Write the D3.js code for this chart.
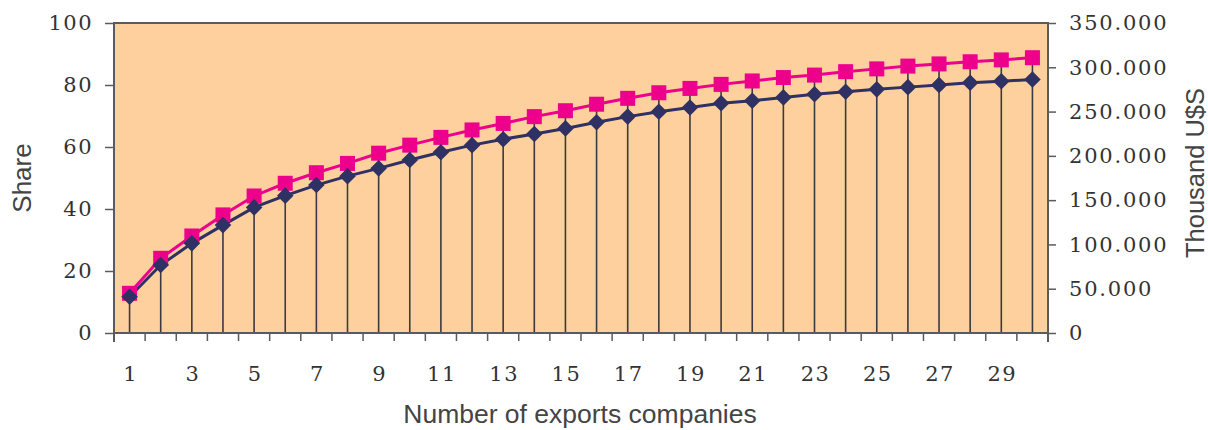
<!DOCTYPE html>
<html>
<head>
<meta charset="utf-8">
<script src="https://cdn.jsdelivr.net/npm/d3@7"></script>
<style>
  html, body { margin: 0; padding: 0; background: #ffffff; }
  svg { display: block; }
</style>
</head>
<body>
<svg id="chart" width="1208" height="430"></svg>
<script>
// ---- data ----
const companies = d3.range(1, 31);                       // number of export companies
const shareValues = [12.8, 24.1, 31.3, 38.1, 44.2, 48.3, 51.7, 54.7, 58.0, 60.6,
                     63.1, 65.5, 67.6, 69.8, 71.7, 73.8, 75.7, 77.5, 78.9, 80.2,
                     81.3, 82.4, 83.2, 84.3, 85.2, 86.1, 86.8, 87.5, 88.1, 88.8];
const valueThousands = [41000, 76700, 101200, 121800, 141800, 155100, 167000, 177100, 185900, 195300,
                        204100, 212100, 218800, 224700, 231000, 238000, 244300, 249900, 254500, 259400,
                        262200, 266000, 269500, 272300, 275100, 277600, 280000, 282500, 284200, 286300];
const leftTicks = [0, 20, 40, 60, 80, 100];
const leftTickLabels = ["0", "20", "40", "60", "80", "100"];
const rightTicks = [0, 50000, 100000, 150000, 200000, 250000, 300000, 350000];
const rightTickLabels = ["0", "50.000", "100.000", "150.000", "200.000", "250.000", "300.000", "350.000"];
const xTickLabels = companies.filter(d => d % 2 === 1);

// ---- layout ----
const svg = d3.select("#chart");
const plot = { left: 114, right: 1048, top: 23, bottom: 333 };

const x = d3.scaleBand().domain(companies).range([plot.left, plot.right]).padding(0);
const yL = d3.scaleLinear().domain([0, 100]).range([plot.bottom, plot.top]);
const yR = d3.scaleLinear().domain([0, 350000]).range([plot.bottom, plot.top]);
const cx = d => x(d) + x.bandwidth() / 2;

const numFont = "'DejaVu Serif', serif";
const titleFont = "'Liberation Sans', Arial, sans-serif";
const axisColor = "#5b5b5b";
const textColor = "#333333";

// background of plot area
svg.append("rect")
  .attr("x", plot.left).attr("y", plot.top)
  .attr("width", plot.right - plot.left).attr("height", plot.bottom - plot.top)
  .attr("fill", "#fdd09e");

// drop lines (from highest point of each category down to the axis)
const g = svg.append("g");
g.selectAll("line.drop")
  .data(companies)
  .join("line")
  .attr("class", "drop")
  .attr("x1", d => cx(d)).attr("x2", d => cx(d))
  .attr("y1", (d, i) => Math.min(yL(shareValues[i]), yR(valueThousands[i])))
  .attr("y2", plot.bottom)
  .attr("stroke", "#3b3a40").attr("stroke-width", 1.6);

// plot border (top)
svg.append("line")
  .attr("x1", plot.left).attr("x2", plot.right)
  .attr("y1", plot.top).attr("y2", plot.top)
  .attr("stroke", axisColor).attr("stroke-width", 2);

// left axis
const leftAxis = d3.axisLeft(yL).tickValues(leftTicks)
  .tickFormat((d, i) => leftTickLabels[i]).tickSize(9).tickPadding(12);
const gl = svg.append("g").attr("transform", `translate(${plot.left},0)`).call(leftAxis);
gl.select(".domain").remove();
gl.append("line").attr("x1", 0).attr("x2", 0).attr("y1", plot.top - 1).attr("y2", plot.bottom + 9)
  .attr("stroke", axisColor).attr("stroke-width", 2);
gl.selectAll(".tick line").attr("stroke", axisColor).attr("stroke-width", 1.5);
gl.selectAll(".tick text").attr("font-family", numFont).attr("font-size", 21)
  .attr("letter-spacing", 1.5).attr("fill", textColor);

// right axis
const rightAxis = d3.axisRight(yR).tickValues(rightTicks)
  .tickFormat((d, i) => rightTickLabels[i]).tickSize(8).tickPadding(13);
const gr = svg.append("g").attr("transform", `translate(${plot.right},0)`).call(rightAxis);
gr.select(".domain").remove();
gr.append("line").attr("x1", 0).attr("x2", 0).attr("y1", plot.top - 1).attr("y2", plot.bottom + 9)
  .attr("stroke", axisColor).attr("stroke-width", 2);
gr.selectAll(".tick line").attr("stroke", axisColor).attr("stroke-width", 1.5);
gr.selectAll(".tick text").attr("font-family", numFont).attr("font-size", 21)
  .attr("letter-spacing", 1.8).attr("fill", textColor);

// bottom axis: boundary ticks + labels at odd categories
svg.append("line")
  .attr("x1", plot.left).attr("x2", plot.right)
  .attr("y1", plot.bottom).attr("y2", plot.bottom)
  .attr("stroke", axisColor).attr("stroke-width", 2);
const boundaries = companies.map(d => x(d)).concat([plot.right]);
svg.append("g").selectAll("line")
  .data(boundaries)
  .join("line")
  .attr("x1", d => d).attr("x2", d => d)
  .attr("y1", plot.bottom).attr("y2", plot.bottom + 8)
  .attr("stroke", axisColor).attr("stroke-width", 1.5);
svg.append("g").selectAll("text")
  .data(xTickLabels)
  .join("text")
  .attr("x", d => cx(d) + 1)
  .attr("y", 381)
  .attr("text-anchor", "middle")
  .attr("font-family", numFont).attr("font-size", 21)
  .attr("letter-spacing", 1.5)
  .attr("fill", textColor)
  .text(d => d);

// lines and markers
const lineShare = d3.line().x((d, i) => cx(companies[i])).y(d => yL(d));
const lineValue = d3.line().x((d, i) => cx(companies[i])).y(d => yR(d));

svg.append("path").datum(valueThousands)
  .attr("d", lineValue).attr("fill", "none")
  .attr("stroke", "#2f3063").attr("stroke-width", 3);
svg.append("path").datum(shareValues)
  .attr("d", lineShare).attr("fill", "none")
  .attr("stroke", "#ec008c").attr("stroke-width", 3);

svg.append("g").selectAll("rect")
  .data(shareValues)
  .join("rect")
  .attr("x", (d, i) => cx(companies[i]) - 7.5)
  .attr("y", d => yL(d) - 7.5)
  .attr("width", 15).attr("height", 15)
  .attr("fill", "#ec008c");

svg.append("g").selectAll("path")
  .data(valueThousands)
  .join("path")
  .attr("d", d3.symbol().type(d3.symbolDiamond2).size(175))
  .attr("transform", (d, i) => `translate(${cx(companies[i])},${yR(d)})`)
  .attr("fill", "#2f3063");

// axis titles
svg.append("text")
  .attr("transform", "translate(31,178) rotate(-90)")
  .attr("text-anchor", "middle")
  .attr("font-family", titleFont).attr("font-size", 26)
  .attr("fill", "#444444")
  .text("Share");
svg.append("text")
  .attr("transform", "translate(1204,173) rotate(-90)")
  .attr("text-anchor", "middle")
  .attr("font-family", titleFont).attr("font-size", 25.5)
  .attr("fill", "#444444")
  .text("Thousand U$S");
svg.append("text")
  .attr("x", 580).attr("y", 423)
  .attr("text-anchor", "middle")
  .attr("font-family", titleFont).attr("font-size", 26.5)
  .attr("fill", "#444444")
  .text("Number of exports companies");
</script>
</body>
</html>
